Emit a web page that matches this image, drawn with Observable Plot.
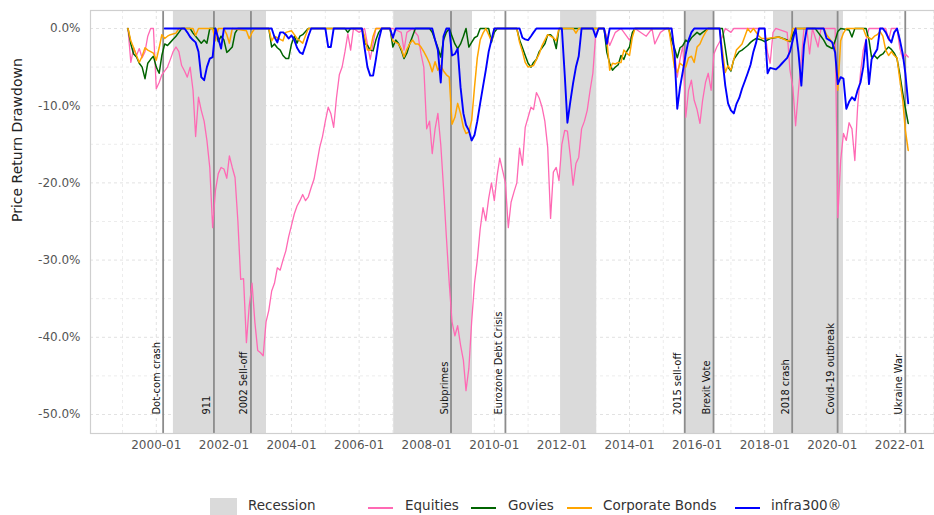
<!DOCTYPE html>
<html><head><meta charset="utf-8">
<script src="https://cdn.jsdelivr.net/npm/d3@7"></script>
<script src="https://cdn.jsdelivr.net/npm/@observablehq/plot@0.6"></script>
<style>
body{margin:0;background:#fff;}
#wrap{position:relative;width:934px;height:515px;overflow:hidden;font-family:"DejaVu Sans",sans-serif;}
#wrap svg{position:absolute;left:0;top:0;}
.lg-line{position:absolute;height:2px;width:25px;top:507px;}
.lg-box{position:absolute;left:210px;top:498px;width:27px;height:20px;background:#dadada;}
.lg-text{position:absolute;top:497px;font-size:13.5px;color:#333;line-height:17px;white-space:nowrap;}
</style></head><body><div id="wrap"></div>
<script>
const equities = [["1999-03",0],["1999-04",-4.4],["1999-05",-2.5],["1999-06",-3.5],["1999-07",-2.6],["1999-08",-3.8],["1999-09",-3],["1999-10",-1],["1999-11",0],["1999-12",0],["2000-01",-7.8],["2000-02",-7],["2000-03",-6],["2000-04",-5.5],["2000-05",-5],["2000-06",-4],["2000-07",-3],["2000-08",-2.4],["2000-09",-3],["2000-10",-4.8],["2000-11",-5.5],["2000-12",-6.3],["2001-01",-5],["2001-02",-8],["2001-03",-14],["2001-04",-8.9],["2001-05",-10.6],["2001-06",-12],["2001-07",-14.5],["2001-08",-18],["2001-09",-25.8],["2001-10",-21],["2001-11",-18.8],["2001-12",-18],["2002-01",-18.2],["2002-02",-19.4],["2002-03",-16.5],["2002-04",-18],["2002-05",-19.3],["2002-06",-25],["2002-07",-32.5],["2002-08",-32.4],["2002-09",-40.7],["2002-10",-36],["2002-11",-33],["2002-12",-38],["2003-01",-41.7],["2003-02",-42],["2003-03",-42.4],["2003-04",-38],["2003-05",-36.5],["2003-06",-34],["2003-07",-33],["2003-08",-31],["2003-09",-31.3],["2003-10",-30],["2003-11",-28.8],["2003-12",-27],["2004-01",-25.5],["2004-02",-24],["2004-03",-23],["2004-04",-22.3],["2004-05",-21.5],["2004-06",-22.3],["2004-07",-21.8],["2004-08",-20.6],["2004-09",-19.5],["2004-10",-17.5],["2004-11",-15.4],["2004-12",-14],["2005-01",-12],["2005-02",-10.2],["2005-03",-11],["2005-04",-12.8],["2005-05",-9],["2005-06",-6],["2005-07",-5],["2005-08",-3],["2005-09",-0.7],["2005-10",-2.8],["2005-11",0],["2006-01",-0.5],["2006-03",0],["2006-05",-4],["2006-07",0],["2007-01",0],["2007-04",-0.5],["2007-05",-2.8],["2007-06",-0.5],["2007-08",0],["2007-10",-1],["2007-11",-3.3],["2007-12",-5],["2008-01",-13],["2008-02",-12],["2008-03",-16.2],["2008-04",-13],["2008-05",-11],["2008-06",-15],["2008-07",-20.6],["2008-08",-27],["2008-09",-33],["2008-10",-38],["2008-11",-39.8],["2008-12",-38.5],["2009-01",-41],["2009-02",-43],["2009-03",-46.9],["2009-04",-44],["2009-05",-38],["2009-06",-33],["2009-07",-30],["2009-08",-26],["2009-09",-23.2],["2009-10",-24.9],["2009-11",-22],["2009-12",-20],["2010-01",-22.3],["2010-02",-19],["2010-03",-16.8],["2010-04",-18.4],["2010-05",-20],["2010-06",-25.8],["2010-07",-22.5],["2010-08",-21.2],["2010-09",-20],["2010-10",-15.5],["2010-11",-17.7],["2010-12",-12.8],["2011-01",-11.5],["2011-02",-10.2],["2011-03",-10.5],["2011-04",-8.3],["2011-05",-9],["2011-06",-10.2],["2011-07",-12],["2011-08",-15.4],["2011-09",-24.6],["2011-10",-18.6],["2011-11",-18],["2011-12",-19.7],["2012-01",-15],["2012-02",-13.2],["2012-03",-13.3],["2012-04",-16.5],["2012-05",-20.3],["2012-06",-17.5],["2012-07",-16.7],["2012-08",-13],["2012-09",-12],["2012-10",-10.6],["2012-11",-8],["2012-12",-5.8],["2013-01",-0.7],["2013-02",0],["2013-04",0],["2013-06",-2.2],["2013-08",-0.5],["2013-10",0],["2014-01",-1.5],["2014-03",0],["2014-07",-1],["2014-09",0],["2014-10",-2],["2014-12",-0.5],["2015-02",0],["2015-04",0],["2015-05",-2.8],["2015-06",-6.3],["2015-07",-4],["2015-08",-2.2],["2015-09",-11.5],["2015-10",-8],["2015-11",-6.7],["2015-12",-9.3],["2016-01",-10.5],["2016-02",-12.3],["2016-03",-9.3],["2016-04",-7],["2016-05",-5.8],["2016-06",-8],["2016-07",-3.3],["2016-08",-2.4],["2016-10",-1.1],["2016-11",0],["2017-01",-0.5],["2017-02",0],["2018-01",0],["2018-02",-3.1],["2018-03",-4.5],["2018-04",-0.5],["2018-05",0],["2018-09",-0.5],["2018-10",-5.4],["2018-11",-7.6],["2018-12",-12.6],["2019-01",-8],["2019-02",-4],["2019-03",0],["2019-04",0],["2019-05",-3.3],["2019-06",0],["2019-08",-2.4],["2019-09",0],["2020-02",0],["2020-03",-24.5],["2020-04",-17.1],["2020-05",-13.6],["2020-06",-14.5],["2020-07",-12.2],["2020-08",-13],["2020-09",-17.1],["2020-10",-10.2],["2020-11",-5.8],["2020-12",-2.8],["2021-02",0],["2021-08",0],["2021-09",-1.5],["2021-10",0],["2021-12",0],["2022-01",-2.6],["2022-02",-3.9],["2022-03",-3.3],["2022-04",-3.7]];

const govies = [["1999-03",0],["1999-04",-2],["1999-05",-3.3],["1999-06",-3.7],["1999-07",-4.5],["1999-08",-5],["1999-09",-6.5],["1999-10",-4.5],["1999-11",-4],["1999-12",-3.6],["2000-01",-5],["2000-02",-5.8],["2000-03",-3.5],["2000-04",-2],["2000-05",-2.2],["2000-06",-1.8],["2000-07",-1.4],["2000-08",-1],["2000-09",-0.5],["2000-10",0],["2001-01",0],["2001-02",-0.6],["2001-03",-1],["2001-05",-1.9],["2001-06",-1.5],["2001-07",-1.9],["2001-08",0],["2001-10",0],["2001-11",-1.7],["2001-12",-1],["2002-01",-1.5],["2002-02",-3.1],["2002-03",-2.8],["2002-04",-2.4],["2002-05",-0.6],["2002-06",0],["2003-05",0],["2003-06",-2.4],["2003-07",-2],["2003-08",-2.5],["2003-09",-2.8],["2003-10",-3.5],["2003-11",-3.9],["2003-12",-3.9],["2004-01",-2],["2004-02",-1],["2004-03",-1.9],["2004-04",-1],["2004-05",-0.8],["2004-06",-0.4],["2004-07",0],["2005-08",0],["2005-09",-0.5],["2005-10",0],["2006-02",0],["2006-03",-1.9],["2006-04",-2.2],["2006-05",-2.8],["2006-06",-2.9],["2006-07",-1.5],["2006-08",-0.5],["2006-09",0],["2006-12",0],["2007-01",-2.4],["2007-02",-1.5],["2007-03",-1.9],["2007-04",-2.8],["2007-05",-3.9],["2007-06",-3.2],["2007-07",-2],["2007-08",-1],["2007-09",0],["2008-02",0],["2008-03",-0.5],["2008-04",-1.5],["2008-05",-2.5],["2008-06",-3.7],["2008-07",-1.5],["2008-08",-0.5],["2008-09",0],["2008-10",-1],["2008-11",-2],["2008-12",-2.6],["2009-01",-2],["2009-02",-1],["2009-03",0],["2009-04",-2.4],["2009-05",-1.8],["2009-06",-1.2],["2009-07",-1],["2009-08",0],["2009-11",0],["2009-12",-1.8],["2010-01",-0.5],["2010-02",0],["2010-09",0],["2010-10",-1.5],["2010-11",-2.5],["2010-12",-3.5],["2011-01",-4.5],["2011-02",-5],["2011-03",-4.4],["2011-04",-4],["2011-05",-3],["2011-06",-2.5],["2011-07",-2],["2011-08",-0.8],["2011-09",-0.8],["2011-10",-1.2],["2011-11",-2.6],["2011-12",0],["2013-04",0],["2013-05",-3.1],["2013-06",-4.5],["2013-07",-5.4],["2013-08",-5],["2013-09",-4.7],["2013-10",-3.5],["2013-11",-4],["2013-12",-3],["2014-01",-2.4],["2014-02",-0.5],["2014-03",0],["2015-03",0],["2015-04",-1.5],["2015-05",-2.5],["2015-06",-3.8],["2015-07",-2.5],["2015-08",-2.2],["2015-09",-1.5],["2015-10",-1.8],["2015-11",-1.2],["2016-01",-0.5],["2016-02",-0.8],["2016-03",-0.5],["2016-05",0],["2016-10",0],["2016-11",-2.5],["2016-12",-5],["2017-01",-5.5],["2017-02",-4],["2017-03",-3.5],["2017-04",-3],["2017-05",-2.8],["2017-06",-2.5],["2017-07",-2.2],["2017-08",-1.8],["2017-09",-1.5],["2017-10",-1.3],["2017-11",-1.4],["2017-12",-1.5],["2018-01",-1.7],["2018-03",-1.3],["2018-06",-1.1],["2018-09",-1.5],["2018-10",-1.7],["2018-11",-0.8],["2018-12",0],["2019-07",0],["2019-08",-0.5],["2019-09",-1],["2019-10",-1.5],["2019-11",-2.2],["2019-12",-2.4],["2020-01",-2.6],["2020-02",-1.6],["2020-03",-0.4],["2020-04",0],["2020-07",-0.2],["2020-08",-1.1],["2020-09",0],["2021-01",0],["2021-02",-1.5],["2021-03",-3.7],["2021-04",-3.5],["2021-05",-3.9],["2021-06",-3.5],["2021-07",-3.3],["2021-08",-2.8],["2021-09",-2.4],["2021-10",-2.7],["2021-11",-3.2],["2021-12",-3.9],["2022-01",-6],["2022-02",-8.4],["2022-03",-10.3],["2022-04",-12.3]];

const corporateBonds = [["1999-03",0],["1999-04",-1.6],["1999-05",-2.5],["1999-06",-3.5],["1999-07",-4.4],["1999-08",-3.6],["1999-09",-2.5],["1999-10",-2.8],["1999-11",-3],["1999-12",-3.2],["2000-01",-4.1],["2000-02",-2.5],["2000-03",-0.8],["2000-04",-1.3],["2000-05",-1],["2000-06",-0.8],["2000-08",-0.6],["2000-09",0],["2001-02",0],["2001-03",-0.9],["2001-04",0],["2001-09",0],["2001-10",-1.6],["2001-11",0],["2002-01",0],["2002-02",-0.8],["2002-03",-1.9],["2002-04",0],["2002-09",-0.3],["2002-10",-1.3],["2002-11",-0.5],["2002-12",0],["2003-05",0],["2003-06",-1.6],["2003-07",-1],["2003-08",-1.2],["2003-09",-1.4],["2003-10",-1.6],["2003-11",-0.5],["2004-01",-0.3],["2004-02",-0.8],["2004-03",-1.3],["2004-04",-1.6],["2004-05",-1.9],["2004-06",-0.9],["2004-07",0],["2006-02",0],["2006-03",-1],["2006-04",-2.8],["2006-05",-2.8],["2006-06",-1],["2006-07",0],["2006-12",0],["2007-01",-1.6],["2007-02",-1.8],["2007-03",-2],["2007-04",-2.6],["2007-05",-3.7],["2007-06",-2.7],["2007-07",-2],["2007-08",-1.5],["2007-09",-2],["2007-10",-2],["2007-11",-2.4],["2007-12",-3],["2008-01",-3.7],["2008-02",-4.5],["2008-03",-5.6],["2008-04",-4.3],["2008-05",-5.4],["2008-06",-4.8],["2008-07",-5.5],["2008-08",-6],["2008-09",-6.3],["2008-10",-12.4],["2008-11",-11.5],["2008-12",-9.7],["2009-01",-11],["2009-02",-12.8],["2009-03",-13.6],["2009-04",-13.4],["2009-05",-11.9],["2009-06",-7.6],["2009-07",-3.8],["2009-08",-1.5],["2009-09",-0.6],["2009-10",0],["2009-11",-0.8],["2009-12",-1.6],["2010-01",0],["2010-09",0],["2010-10",-1.8],["2010-11",-3],["2010-12",-4.4],["2011-01",-5],["2011-02",-4.9],["2011-03",-4.8],["2011-04",-4],["2011-05",-3.3],["2011-06",-2.2],["2011-07",-1.5],["2011-08",-0.8],["2011-09",-1],["2011-10",-1.2],["2011-11",-1.6],["2011-12",0],["2012-05",0],["2012-06",-0.6],["2012-07",0],["2013-04",0],["2013-05",-1.5],["2013-06",-5.4],["2013-07",-4.5],["2013-08",-4.6],["2013-09",-4.4],["2013-10",-4.4],["2013-11",-2.8],["2013-12",-3.2],["2014-01",-3.5],["2014-02",-1.1],["2014-03",0],["2015-03",0],["2015-04",-2.4],["2015-05",-5],["2015-06",-5.7],["2015-07",-4.5],["2015-08",-4.8],["2015-09",-5],["2015-10",-3.8],["2015-11",-3.6],["2015-12",-4.4],["2016-01",-2.4],["2016-02",-2],["2016-03",-1.2],["2016-04",-0.5],["2016-05",0],["2016-09",0],["2016-10",-2.8],["2016-11",-5.7],["2016-12",-4.8],["2017-01",-5.4],["2017-02",-4],["2017-03",-2.8],["2017-04",-2.4],["2017-05",-2],["2017-06",-1],["2017-07",0],["2017-08",-0.5],["2017-09",0],["2017-11",-1],["2017-12",-1.3],["2018-02",-1.3],["2018-04",-1.2],["2018-06",-1.1],["2018-08",-1.4],["2018-09",-1.6],["2018-10",-1.6],["2018-11",0],["2019-10",0],["2019-11",-0.8],["2019-12",-1.3],["2020-01",-1.8],["2020-02",-2.6],["2020-03",-8],["2020-04",-1.6],["2020-05",-0.6],["2020-06",0],["2020-12",0],["2021-01",-1],["2021-02",-1.2],["2021-03",-1.4],["2021-04",-1],["2021-05",-0.8],["2021-06",-0.4],["2021-07",-1],["2021-08",-2.8],["2021-09",-3.5],["2021-10",-3],["2021-11",-3.5],["2021-12",-3.8],["2022-01",-6.7],["2022-02",-9.3],["2022-03",-13.2],["2022-04",-15.8]];

const infra300 = [["2000-04",0],["2000-11",0],["2000-12",-0.5],["2001-01",-1.1],["2001-02",-1.5],["2001-03",-1.8],["2001-04",-3],["2001-05",-6.3],["2001-06",-6.7],["2001-07",-5],["2001-08",-3.9],["2001-09",-3.7],["2001-10",0],["2001-11",-1.3],["2001-12",-2.6],["2002-01",0],["2003-06",0],["2003-07",-1.1],["2003-08",-1.8],["2003-09",-0.5],["2003-10",-0.5],["2003-11",-0.8],["2003-12",-1.3],["2004-01",-0.9],["2004-02",-1.5],["2004-03",-2.5],["2004-04",-3.1],["2004-05",-3.3],["2004-06",-2.2],["2004-07",-1],["2004-08",0],["2005-01",0],["2005-02",-2.4],["2005-03",-2.4],["2005-04",0],["2006-02",0],["2006-03",-2.5],["2006-04",-5],["2006-05",-6.1],["2006-06",-6.1],["2006-07",-4],["2006-08",-1.5],["2006-09",0],["2006-12",0],["2007-01",-1.2],["2007-02",0],["2008-03",0],["2008-04",-1.5],["2008-05",-2.8],["2008-06",-7],["2008-07",-1],["2008-08",0],["2008-09",0],["2008-10",-3.5],["2008-11",-3.3],["2008-12",-2.6],["2009-01",-7.6],["2009-02",-11],["2009-03",-12.5],["2009-04",-13.2],["2009-05",-14.5],["2009-06",-13.8],["2009-07",-12],["2009-08",-9.7],["2009-09",-7.5],["2009-10",-5.4],["2009-11",-3],["2009-12",-1.5],["2010-01",0],["2010-10",0],["2010-11",-1.2],["2010-12",-1.4],["2011-01",-1.5],["2011-02",-1],["2011-03",-0.5],["2011-04",0],["2012-01",0],["2012-02",-6],["2012-03",-12.2],["2012-04",-9.5],["2012-05",-7.1],["2012-06",-5],["2012-07",-3.6],["2012-08",0],["2012-12",0],["2013-01",-1.1],["2013-02",0],["2013-04",0],["2013-05",-2],["2013-06",0],["2015-04",0],["2015-05",-3],["2015-06",-10.4],["2015-07",-7.6],["2015-08",-5.5],["2015-09",-3.3],["2015-10",-1.5],["2015-11",-0.5],["2015-12",0],["2016-09",0],["2016-10",-4],["2016-11",-7.4],["2016-12",-9.7],["2017-01",-10.6],["2017-02",-11],["2017-03",-9.8],["2017-04",-9],["2017-05",-7.8],["2017-06",-6.8],["2017-07",-5.8],["2017-08",-4.7],["2017-09",-3],["2017-10",-1.8],["2017-11",0],["2018-01",0],["2018-02",-5.8],["2018-03",-5.1],["2018-04",-5.2],["2018-05",-5.3],["2018-06",-5],["2018-07",-4.6],["2018-08",-4.2],["2018-09",-3.8],["2018-10",-3],["2018-11",-1.5],["2018-12",0],["2019-01",-3.1],["2019-02",-7.4],["2019-03",-2.2],["2019-04",0],["2019-10",0],["2019-11",-1.3],["2019-12",-1.5],["2020-01",-1.8],["2020-02",-3.1],["2020-03",-7.2],["2020-04",-6.3],["2020-05",-6.5],["2020-06",-10.4],["2020-07",-9.5],["2020-08",-8.9],["2020-09",-9.3],["2020-10",-8],["2020-11",-7],["2020-12",-5],["2021-01",-1.5],["2021-02",-7.2],["2021-03",-4],["2021-04",-3.3],["2021-05",-2.7],["2021-06",0],["2021-07",0],["2021-08",-0.5],["2021-09",-1.3],["2021-10",-1.8],["2021-11",-0.5],["2021-12",0],["2022-01",-1.5],["2022-02",-3.3],["2022-03",-5.8],["2022-04",-9.7]];

const recessions = [["2000-07-04","2003-04-06"],["2007-01-10","2009-05-10"],["2011-12-18","2013-01-12"],["2015-08-18","2016-07-06"],["2018-04-06","2020-05-01"]];
const eventNames = ["Dot-com crash","911","2002 Sell-off","Subprimes","Eurozone Debt Crisis","2015 sell-off","Brexit Vote","2018 crash","Covid-19 outbreak","Ukraine War"];
const eventDates = ["2000-03-15","2001-09-15","2002-10-20","2008-09-20","2010-05-01","2015-08-21","2016-06-27","2018-10-25","2020-02-28","2022-02-28"];
const seriesNames = ["Equities","Govies","Corporate Bonds","infra300®"];
const seriesColors = ["#ff69b4","#006400","#ffa500","#0000ff"];
const yTicks = [0,-10,-20,-30,-40,-50];
const xTickYears = [2000,2002,2004,2006,2008,2010,2012,2014,2016,2018,2020,2022];

const parseM = d3.utcParse("%Y-%m");
const parseD = d3.utcParse("%Y-%m-%d");
const toRows = (arr, name) => arr.map(([d, v]) => ({date: parseM(d), value: v, series: name}));
const seriesData = [equities, govies, corporateBonds, infra300].map((a, i) => toRows(a, seriesNames[i]));
const recData = recessions.map(([a, b]) => ({start: parseD(a), end: parseD(b)}));
const evData = eventNames.map((n, i) => ({name: n, date: parseD(eventDates[i])}));
const xTicks = xTickYears.map(y => new Date(Date.UTC(y, 0, 1)));
const gridMajorX = xTicks;
const gridMinorX = d3.range(1999, 2024, 2).map(y => new Date(Date.UTC(y, 0, 1)));
const gridMajorY = yTicks;
const gridMinorY = [-5,-15,-25,-35,-45];
const strokeWidths = [1.3, 1.5, 1.5, 1.9];

const chart = Plot.plot({
  width: 934, height: 480,
  marginLeft: 90, marginRight: 0, marginTop: 10, marginBottom: 47,
  style: {background: "white", fontFamily: "DejaVu Sans, sans-serif", fontSize: "12px", color: "#555", overflow: "visible"},
  x: {type: "utc", domain: [new Date(Date.UTC(1998,0,20)), new Date(Date.UTC(2023,0,10))], ticks: xTicks, tickFormat: d3.utcFormat("%Y-%m"), tickSize: 0, tickPadding: 7, label: null},
  y: {domain: [-52.46, 2.33], ticks: yTicks, tickFormat: d => d.toFixed(1).replace("−","-") + "%", tickSize: 0, tickPadding: 10, label: null},
  marks: [
    Plot.ruleX(gridMinorX, {stroke: "#ececec", strokeDasharray: "3,3"}),
    Plot.ruleX(gridMajorX, {stroke: "#e2e2e2", strokeDasharray: "3,3"}),
    Plot.ruleY(gridMinorY, {stroke: "#ececec", strokeDasharray: "3,3"}),
    Plot.ruleY(gridMajorY, {stroke: "#e2e2e2", strokeDasharray: "3,3"}),
    Plot.rect(recData, {x1: "start", x2: "end", fill: "#dadada"}),
    Plot.ruleX(evData, {x: "date", stroke: "#8c8c8c", strokeWidth: 1.8}),
    ...seriesData.map((rows, i) => Plot.line(rows, {x: "date", y: "value", stroke: seriesColors[i], strokeWidth: strokeWidths[i]})),
    Plot.text(evData, {x: "date", frameAnchor: "bottom", dy: -19, dx: -7, text: "name", rotate: -90, textAnchor: "start", lineAnchor: "middle", fill: "#111", fontSize: 11, fontFamily: "Liberation Sans Narrow, DejaVu Sans Condensed, sans-serif"}),
    Plot.frame({stroke: "#cfcfcf", strokeWidth: 1.2}),
    Plot.text(["Price Return Drawdown"], {frameAnchor: "left", dx: -73, text: d => d, rotate: -90, fill: "#222", fontSize: 14, fontFamily: "DejaVu Sans, sans-serif"})
  ]
});
const wrap = document.getElementById("wrap");
wrap.appendChild(chart);

// Legend below the chart
const legendItems = [
  {type: "box", label: "Recession", textLeft: 248},
  {type: "line", color: seriesColors[0], label: seriesNames[0], lineLeft: 368, textLeft: 405},
  {type: "line", color: seriesColors[1], label: seriesNames[1], lineLeft: 471, textLeft: 508},
  {type: "line", color: seriesColors[2], label: seriesNames[2], lineLeft: 567, textLeft: 603},
  {type: "line", color: seriesColors[3], label: seriesNames[3], lineLeft: 735, textLeft: 771}
];
for (const it of legendItems) {
  if (it.type === "box") {
    const b = document.createElement("div"); b.className = "lg-box"; wrap.appendChild(b);
  } else {
    const l = document.createElement("div"); l.className = "lg-line";
    l.style.left = it.lineLeft + "px"; l.style.background = it.color; wrap.appendChild(l);
  }
  const t = document.createElement("div"); t.className = "lg-text";
  t.style.left = it.textLeft + "px"; t.textContent = it.label; wrap.appendChild(t);
}
</script></body></html>
